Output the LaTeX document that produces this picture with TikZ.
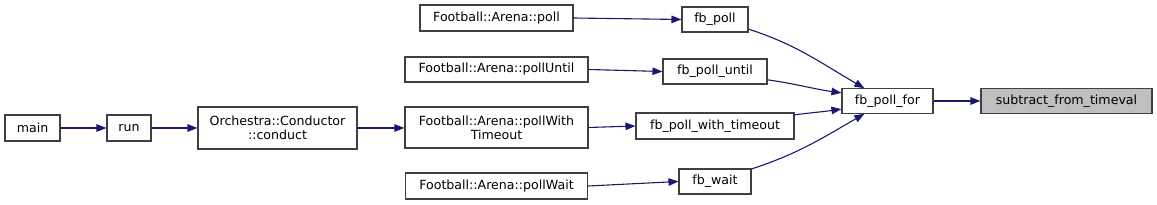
\documentclass[tikz,border=0pt]{standalone}
\usepackage{fontspec}
\setmainfont{DejaVu Sans}
\usetikzlibrary{arrows.meta}
\definecolor{edgecol}{HTML}{191970}
\definecolor{boxborder}{HTML}{404040}
\definecolor{hilite}{HTML}{BFBFBF}
\begin{document}
\begin{tikzpicture}[x=1pt,y=-1pt,
  fn/.style={draw=boxborder,line width=1.1pt,fill=white,inner sep=0pt,align=center,
    font=\fontsize{12.6}{14}\selectfont},
  edge/.style={draw=edgecol,line width=1.1pt,-{Triangle[length=10pt,width=7.5pt]}}]
\useasboundingbox (0,0) rectangle (1157,205);
\node[fn,minimum width=55pt,minimum height=26pt] (main) at (32.5,128) {main};
\node[fn,minimum width=44pt,minimum height=26pt] (run) at (129,128) {run};
\node[fn,minimum width=159pt,minimum height=42pt] (conduct) at (277.5,128) {Orchestra::Conductor\\::conduct};
\node[fn,minimum width=153pt,minimum height=26pt] (poll) at (496.5,18) {Football::Arena::poll};
\node[fn,minimum width=183pt,minimum height=25pt] (pollUntil) at (496.5,69.5) {Football::Arena::pollUntil};
\node[fn,minimum width=183pt,minimum height=41pt] (pollWT) at (496.5,127.5) {Football::Arena::pollWith\\Timeout};
\node[fn,minimum width=182pt,minimum height=26pt] (pollWait) at (496.5,186) {Football::Arena::pollWait};
\node[fn,minimum width=66pt,minimum height=25pt] (fbpoll) at (715,19.5) {fb\_poll};
\node[fn,minimum width=104pt,minimum height=25pt] (fbpolluntil) at (715,71.5) {fb\_poll\_until};
\node[fn,minimum width=158pt,minimum height=26pt] (fbpollwt) at (715,126) {fb\_poll\_with\_timeout};
\node[fn,minimum width=72pt,minimum height=25pt] (fbwait) at (715,181.5) {fb\_wait};
\node[fn,minimum width=91pt,minimum height=24.5pt] (fbpollfor) at (887.5,101) {fb\_poll\_for};
\node[fn,fill=hilite,minimum width=171pt,minimum height=24.5pt] (subtract) at (1066.5,101) {subtract\_from\_timeval};

\draw[edge] (main) -- (run);
\draw[edge] (run) -- (conduct);
\draw[edge] (conduct) -- (pollWT.west |- conduct);
\draw[edge] (poll.east) -- (fbpoll.west);
\draw[edge] (pollUntil.east) -- (fbpolluntil.west);
\draw[edge] (pollWT.east) -- (fbpollwt.west);
\draw[edge] (pollWait.east) -- (fbwait.west);
\draw[edge] (fbpoll.-16) to[out=-18,in=150] (fbpollfor.151);
\draw[edge] (fbpolluntil.-9) to[out=-8,in=172] (fbpollfor.170);
\draw[edge] (fbpollwt.8) to[out=7,in=188] (fbpollfor.190);
\draw[edge] (fbwait.19) to[out=18,in=210] (fbpollfor.209);
\draw[edge] (fbpollfor) -- (subtract);
\end{tikzpicture}
\end{document}
